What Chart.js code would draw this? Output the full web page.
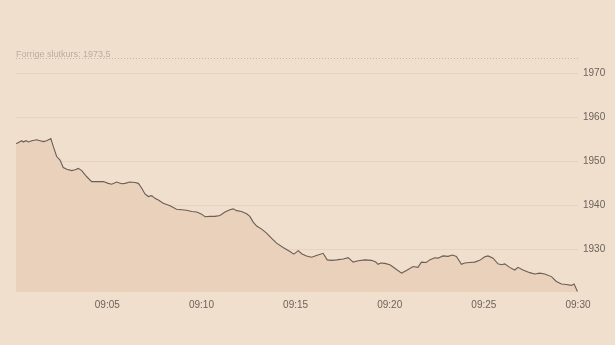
<!DOCTYPE html>
<html lang="no">
<head>
    <meta charset="UTF-8">
    <title>Kursutvikling</title>
    <script src="https://cdn.jsdelivr.net/npm/chart.js"></script>
    <style>
        body {
            margin: 0;
            background-color: #f1dfcd;
        }
        #wrap {
            width: 615px;
            height: 345px;
        }
    </style>
</head>
<body>
    <div id="wrap">
        <canvas id="priceChart" width="615" height="345"></canvas>
    </div>
    <script>
        // minutter etter 09:00
        const minutes = [
            0.15, 0.28, 0.46, 0.54, 0.68, 0.81, 0.99, 1.25, 1.43, 1.60, 1.78, 2.00, 2.13, 2.31, 2.49, 2.66,
            2.85, 3.11, 3.29, 3.46, 3.64, 3.91, 4.17, 4.44, 4.79, 5.05, 5.23, 5.50, 5.76, 5.94, 6.20, 6.47,
            6.65, 6.83, 7.00, 7.18, 7.36, 7.53, 7.71, 7.97, 8.33, 8.68, 8.95, 9.21, 9.48, 9.75, 10.01, 10.19,
            10.45, 10.72, 10.98, 11.25, 11.51, 11.69, 11.87, 12.13, 12.40, 12.57, 12.75, 12.93, 13.20, 13.46,
            13.73, 13.99, 14.34, 14.70, 14.91, 15.14, 15.32, 15.58, 15.85, 16.11, 16.46, 16.68, 16.91, 17.18,
            17.53, 17.79, 18.06, 18.32, 18.68, 19.03, 19.26, 19.38, 19.51, 19.74, 20.01, 20.27, 20.63, 20.89,
            21.24, 21.50, 21.68, 21.94, 22.12, 22.39, 22.56, 22.83, 23.10, 23.33, 23.54, 23.81, 23.98, 24.25,
            24.51, 24.78, 25.05, 25.22, 25.49, 25.75, 25.93, 26.11, 26.37, 26.64, 26.81, 27.08, 27.44, 27.70,
            27.97, 28.23, 28.59, 28.85, 29.12, 29.38, 29.65, 29.79, 29.97
        ];
        const prices = [
            1954.0, 1954.3, 1954.7, 1954.4, 1954.7, 1954.4, 1954.7, 1954.9, 1954.7, 1954.5, 1954.7, 1955.2, 1953.4, 1951.1, 1950.3, 1948.6,
            1948.2, 1947.9, 1948.1, 1948.4, 1947.9, 1946.5, 1945.4, 1945.4, 1945.4, 1945.0, 1944.8, 1945.3, 1944.9, 1945.0, 1945.3, 1945.2,
            1945.0, 1943.9, 1942.6, 1942.0, 1942.2, 1941.6, 1941.2, 1940.5, 1939.9, 1939.1, 1939.0, 1938.9, 1938.6, 1938.5, 1938.0, 1937.4,
            1937.5, 1937.5, 1937.7, 1938.5, 1939.0, 1939.2, 1938.8, 1938.6, 1938.1, 1937.5, 1936.2, 1935.3, 1934.6, 1933.7,
            1932.5, 1931.4, 1930.4, 1929.5, 1928.9, 1929.7, 1929.0, 1928.5, 1928.2, 1928.6, 1929.1, 1927.6, 1927.5, 1927.6,
            1927.8, 1928.1, 1927.1, 1927.4, 1927.6, 1927.5, 1927.1, 1926.6, 1926.9, 1926.8, 1926.5, 1925.7, 1924.6, 1925.2,
            1926.1, 1925.9, 1927.1, 1927.0, 1927.6, 1928.1, 1928.0, 1928.5, 1928.4, 1928.7, 1928.4, 1926.6, 1926.9, 1927.0,
            1927.1, 1927.5, 1928.3, 1928.5, 1928.0, 1926.7, 1926.5, 1926.7, 1925.9, 1925.3, 1925.9, 1925.3, 1924.7, 1924.4,
            1924.6, 1924.4, 1923.8, 1922.7, 1922.1, 1922.0, 1921.8, 1922.1, 1920.4
        ];
        const xTicks = [5, 10, 15, 20, 25, 30];
        const yTicks = [1930, 1940, 1950, 1960, 1970];
        const prevClose = 1973.5;
        const prevCloseLabel = 'Forrige slutkurs: 1973,5';

        const fontFamily = "'Liberation Sans', Arial, sans-serif";

        function minuteLabel(m) {
            const h = 9 + Math.floor(m / 60);
            const mm = m % 60;
            return String(h).padStart(2, '0') + ':' + String(mm).padStart(2, '0');
        }

        // stiplet linje for forrige slutkurs
        const prevClosePlugin = {
            id: 'prevClose',
            afterDraw(chart) {
                const ctx = chart.ctx;
                const area = chart.chartArea;
                const y = Math.round(chart.scales.y.getPixelForValue(prevClose)) + 0.5;
                ctx.save();
                ctx.strokeStyle = '#c4b5a6';
                ctx.lineWidth = 1;
                ctx.setLineDash([1, 2]);
                ctx.beginPath();
                ctx.moveTo(area.left, y);
                ctx.lineTo(area.right, y);
                ctx.stroke();
                ctx.setLineDash([]);
                ctx.fillStyle = '#b8ada2';
                ctx.font = '9px ' + fontFamily;
                ctx.textBaseline = 'alphabetic';
                ctx.fillText(prevCloseLabel, area.left, y - 2);
                ctx.restore();
            }
        };

        const points = minutes.map((m, i) => ({ x: m, y: prices[i] }));

        new Chart(document.getElementById('priceChart').getContext('2d'), {
            type: 'line',
            data: {
                datasets: [{
                    data: points,
                    borderColor: '#6a5e55',
                    borderWidth: 1.1,
                    backgroundColor: '#e9d1bb',
                    fill: 'start',
                    pointRadius: 0,
                    tension: 0
                }]
            },
            options: {
                responsive: false,
                animation: false,
                devicePixelRatio: 1,
                layout: {
                    padding: { left: 16, top: 47, right: 0, bottom: 0 }
                },
                plugins: {
                    legend: { display: false },
                    tooltip: { enabled: false }
                },
                scales: {
                    x: {
                        type: 'linear',
                        min: 0.15,
                        max: 30,
                        afterBuildTicks: (axis) => { axis.ticks = xTicks.map(v => ({ value: v })); },
                        afterFit: (axis) => { axis.height = 53; },
                        grid: { display: false, drawTicks: false },
                        border: { display: false },
                        ticks: {
                            maxRotation: 0,
                            autoSkip: false,
                            padding: 7,
                            color: '#6a625b',
                            font: { family: fontFamily, size: 10 },
                            callback: (v) => minuteLabel(v)
                        }
                    },
                    y: {
                        position: 'right',
                        min: 1920.3,
                        max: 1976,
                        afterBuildTicks: (axis) => { axis.ticks = yTicks.map(v => ({ value: v })); },
                        afterFit: (axis) => { axis.width = 37; },
                        grid: { color: '#e7d3c1', lineWidth: 1, drawTicks: false },
                        border: { display: false },
                        ticks: {
                            padding: 5,
                            color: '#6a625b',
                            font: { family: fontFamily, size: 10 },
                            callback: (v) => String(v)
                        }
                    }
                }
            },
            plugins: [prevClosePlugin]
        });
    </script>
</body>
</html>
